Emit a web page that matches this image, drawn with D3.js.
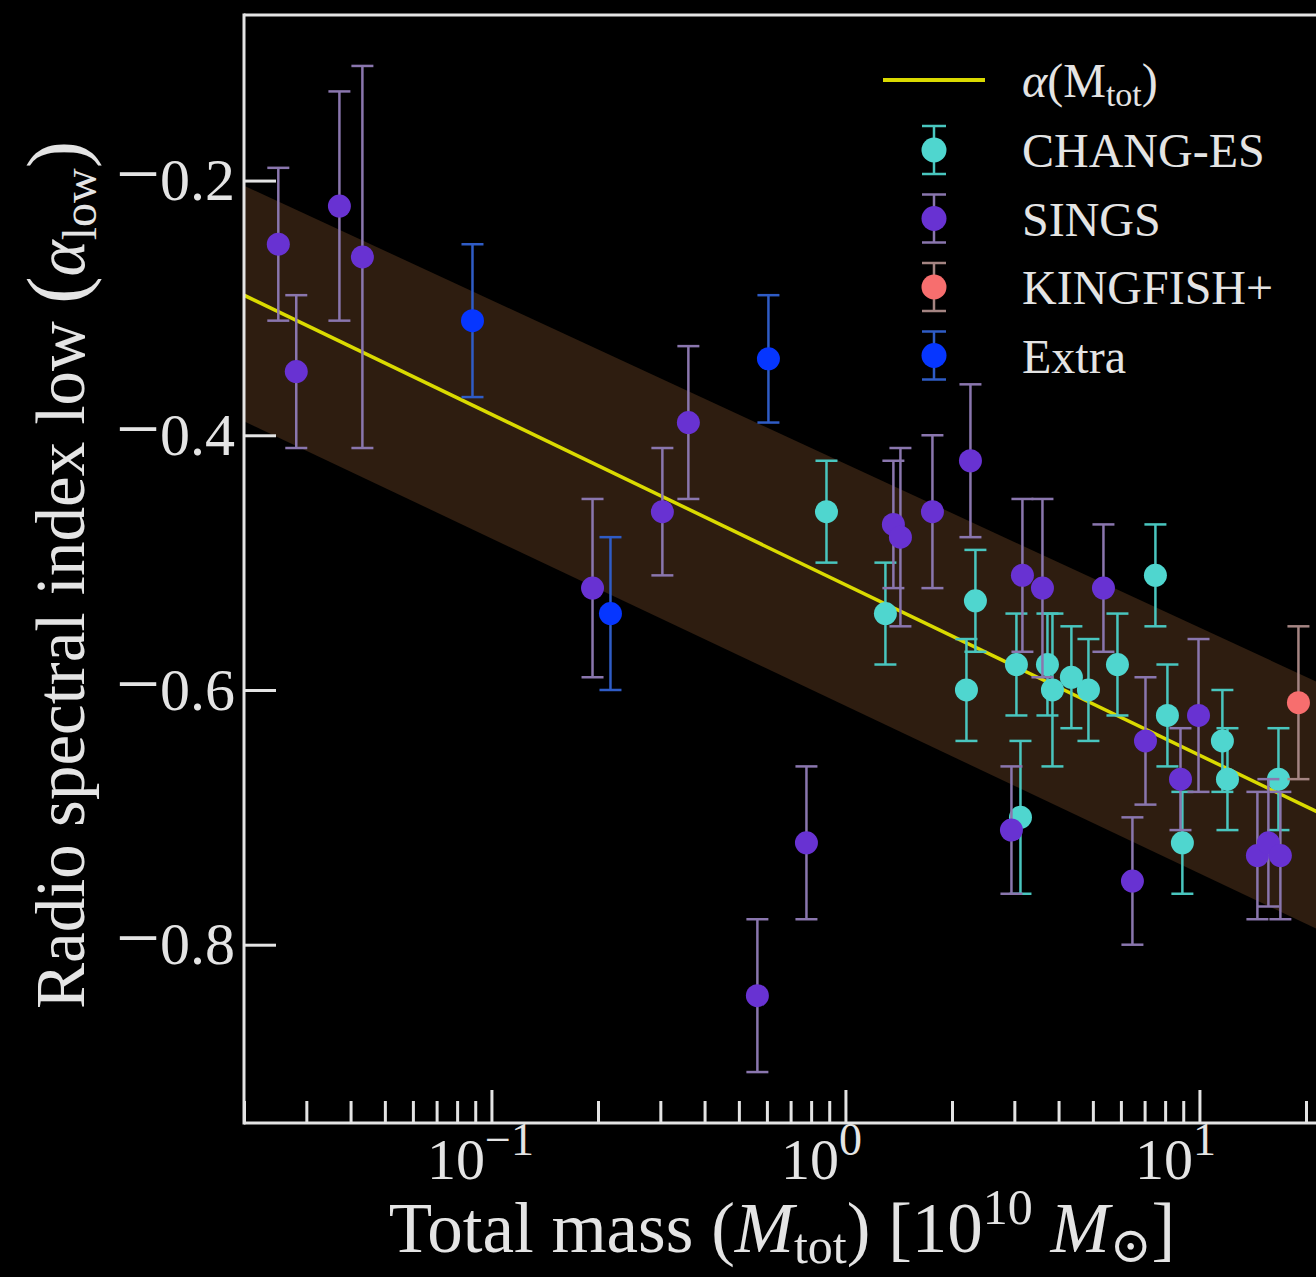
<!DOCTYPE html>
<html lang="en">
<head>
<meta charset="UTF-8">
<title>Radio spectral index vs total mass</title>
<script src="https://d3js.org/d3.v7.min.js"></script>
<style>
    body { margin: 0; background: #000; }
    svg { display: block; background: #000; }
    text { font-family: "Liberation Serif", "DejaVu Serif", serif; fill: #e4e4e4; }
    .frame { stroke: #e4e4e4; stroke-width: 3; }
    .tick line { stroke: #e4e4e4; stroke-width: 3; }
</style>
</head>
<body>
<svg width="1316" height="1277"></svg>
<script>
    // CHANG-ES
    const changesMass  = [0.884, 1.297, 2.197, 2.329, 3.041, 3.122, 3.721, 3.844, 4.348, 4.858, 5.867, 7.51, 8.12, 8.95, 11.61, 12.0, 16.72];
    const changesAlpha = [-0.46, -0.54, -0.60, -0.53, -0.58, -0.70, -0.58, -0.60, -0.59, -0.60, -0.58, -0.51, -0.62, -0.72, -0.64, -0.67, -0.67];
    const changesErr   = [0.04, 0.04, 0.04, 0.04, 0.04, 0.06, 0.04, 0.06, 0.04, 0.04, 0.04, 0.04, 0.04, 0.04, 0.04, 0.04, 0.04];

    // SINGS
    const singsMass  = [0.025, 0.0281, 0.0372, 0.0432, 0.193, 0.304, 0.360, 0.564, 0.776, 1.366, 1.430, 1.761, 2.255, 2.944, 3.162, 3.602, 5.356, 6.467, 7.04, 8.84, 9.94, 14.58, 15.66, 16.93];
    const singsAlpha = [-0.25, -0.35, -0.22, -0.26, -0.52, -0.46, -0.39, -0.84, -0.72, -0.47, -0.48, -0.46, -0.42, -0.71, -0.51, -0.52, -0.52, -0.75, -0.64, -0.67, -0.62, -0.73, -0.72, -0.73];
    const singsErr   = [0.06, 0.06, 0.09, 0.15, 0.07, 0.05, 0.06, 0.06, 0.06, 0.05, 0.07, 0.06, 0.06, 0.05, 0.06, 0.07, 0.05, 0.05, 0.05, 0.04, 0.06, 0.05, 0.05, 0.05];

    // KINGFISH+
    const kingfishMass  = [19.04];
    const kingfishAlpha = [-0.61];
    const kingfishErr   = [0.06];

    // Extra
    const extraMass  = [0.0884, 0.2169, 0.606];
    const extraAlpha = [-0.31, -0.54, -0.34];
    const extraErr   = [0.06, 0.06, 0.05];

    // fit alpha(M_tot) and its band, read at the left edge and at the right edge of the picture
    const fitMass   = [0.02, 22];
    const fitAlpha  = [-0.29, -0.697];
    const bandUpper = [-0.204, -0.595];
    const bandLower = [-0.389, -0.789];

    const yTicks = [-0.2, -0.4, -0.6, -0.8];
    const xTicks = [0.1, 1, 10];
    const xTickExp = ["\u22121", "0", "1"];

    const series = [
        { name: "CHANG-ES",  mass: changesMass,  alpha: changesAlpha,  err: changesErr,  fill: "#4fd6cf", bar: "#49c6bf" },
        { name: "SINGS",     mass: singsMass,    alpha: singsAlpha,    err: singsErr,    fill: "#6832d2", bar: "#8a76ae" },
        { name: "KINGFISH+", mass: kingfishMass, alpha: kingfishAlpha, err: kingfishErr, fill: "#f76e6e", bar: "#a48482" },
        { name: "Extra",     mass: extraMass,    alpha: extraAlpha,    err: extraErr,    fill: "#0636ff", bar: "#2f5cc6" }
    ];

    const svg = d3.select("svg");
    const plotLeft = 244, plotTop = 15, plotBottom = 1123, perDecade = 354;

    const x = d3.scaleLog().domain([0.02, 60]).range([plotLeft, plotLeft + perDecade * Math.log10(60 / 0.02)]);
    const y = d3.scaleLinear().domain([-0.94, -0.07]).range([plotBottom, plotTop]);

    svg.append("clipPath").attr("id", "plot")
        .append("rect").attr("x", plotLeft).attr("y", plotTop).attr("width", 2000).attr("height", plotBottom - plotTop);

    const plot = svg.append("g").attr("clip-path", "url(#plot)");

    // band
    const bandData = fitMass.map((m, i) => ({ m: m, lo: bandLower[i], hi: bandUpper[i] }));
    plot.append("path")
        .datum(bandData)
        .attr("fill", "#2e1d10")
        .attr("d", d3.area().x(d => x(d.m)).y0(d => y(d.lo)).y1(d => y(d.hi)));

    // fit line
    plot.append("path")
        .datum(fitMass.map((m, i) => ({ m: m, a: fitAlpha[i] })))
        .attr("fill", "none")
        .attr("stroke", "#dada00")
        .attr("stroke-width", 3.5)
        .attr("d", d3.line().x(d => x(d.m)).y(d => y(d.a)));

    // error bars + markers
    const cap = 11;
    series.forEach(s => {
        const pts = s.mass.map((m, i) => ({ m: m, a: s.alpha[i], e: s.err[i] }));
        const g = plot.append("g");
        const eb = g.selectAll("g").data(pts).enter().append("g")
            .attr("stroke", s.bar).attr("stroke-width", 2.5);
        eb.append("line")
            .attr("x1", d => x(d.m)).attr("x2", d => x(d.m))
            .attr("y1", d => y(d.a - d.e)).attr("y2", d => y(d.a + d.e));
        eb.append("line")
            .attr("x1", d => x(d.m) - cap).attr("x2", d => x(d.m) + cap)
            .attr("y1", d => y(d.a - d.e)).attr("y2", d => y(d.a - d.e));
        eb.append("line")
            .attr("x1", d => x(d.m) - cap).attr("x2", d => x(d.m) + cap)
            .attr("y1", d => y(d.a + d.e)).attr("y2", d => y(d.a + d.e));
        g.selectAll("circle").data(pts).enter().append("circle")
            .attr("cx", d => x(d.m)).attr("cy", d => y(d.a))
            .attr("r", 11.5).attr("fill", s.fill);
    });

    // axes (ticks point inward)
    const minor = x.ticks().filter(t => !xTicks.includes(t));
    svg.append("g").attr("transform", `translate(0,${plotBottom})`)
        .call(d3.axisBottom(x).tickValues(minor).tickSize(-22).tickFormat(""))
        .call(g => g.select(".domain").remove());
    const xMaj = svg.append("g").attr("transform", `translate(0,${plotBottom})`)
        .call(d3.axisBottom(x).tickValues(xTicks).tickSize(-33).tickFormat(""))
        .call(g => g.select(".domain").remove());
    xMaj.selectAll(".tick").each(function(d, i) {
        const t = d3.select(this);
        t.append("text").attr("x", -7).attr("y", 56).attr("text-anchor", "end")
            .style("font-size", "58px").text("10");
        t.append("text").attr("x", -7).attr("y", 32).attr("text-anchor", "start")
            .style("font-size", "46px").text(xTickExp[i]);
    });

    svg.append("g").attr("transform", `translate(${plotLeft},0)`)
        .call(d3.axisLeft(y).tickValues(yTicks).tickSize(-32).tickPadding(9).tickFormat(""))
        .call(g => g.select(".domain").remove())
        .call(g => g.selectAll(".tick text").each(function(d) {
            const t = d3.select(this).style("font-size", "60px").attr("fill", "#e4e4e4");
            t.append("tspan").style("font-size", "78px").text("\u2212");
            t.append("tspan").text(d3.format(".1f")(Math.abs(d)));
        }));

    // frame
    svg.append("line").attr("class", "frame").attr("x1", plotLeft).attr("x2", 1316).attr("y1", plotBottom).attr("y2", plotBottom);
    svg.append("line").attr("class", "frame").attr("x1", plotLeft).attr("x2", 1316).attr("y1", plotTop).attr("y2", plotTop);
    svg.append("line").attr("class", "frame").attr("x1", plotLeft).attr("x2", plotLeft).attr("y1", plotTop - 1.5).attr("y2", plotBottom + 1.5);

    function parts(sel, list) {
        list.forEach(p => {
            const ts = sel.append("tspan").text(p.t);
            if (p.size) ts.style("font-size", p.size);
            if (p.dy) ts.attr("dy", p.dy);
            if (p.it) ts.style("font-style", "italic");
        });
    }

    // axis labels
    const xl = svg.append("text").attr("x", 782).attr("y", 1252).attr("text-anchor", "middle").style("font-size", "71px");
    parts(xl, [
        { t: "Total mass (" },
        { t: "M", it: true },
        { t: "tot", size: "50px", dy: 11 },
        { t: ") [10", dy: -11 },
        { t: "10", size: "50px", dy: -28 },
        { t: " " , dy: 28 },
        { t: "M", it: true },
        { t: "\u2299", size: "50px", dy: 10 },
        { t: "]", dy: -10 }
    ]);

    const yl = svg.append("text").attr("transform", "translate(84,575) rotate(-90)")
        .attr("text-anchor", "middle").style("font-size", "69px");
    parts(yl, [
        { t: "Radio spectral index low " },
        { t: "(", size: "82px" },
        { t: "\u03b1", it: true },
        { t: "low", size: "48px", dy: 12 },
        { t: ")", size: "82px", dy: -12 }
    ]);

    // legend
    const leg = svg.append("g");
    leg.append("line").attr("x1", 883).attr("x2", 985).attr("y1", 80).attr("y2", 80)
        .attr("stroke", "#dada00").attr("stroke-width", 4);
    const lt = leg.append("text").attr("x", 1022).attr("y", 97).style("font-size", "48px");
    parts(lt, [
        { t: "\u03b1", it: true },
        { t: "(M" },
        { t: "tot", size: "34px", dy: 9 },
        { t: ")", dy: -9 }
    ]);
    series.forEach((s, i) => {
        const cy = 150 + i * 68.5;
        const g = leg.append("g").attr("stroke", s.bar).attr("stroke-width", 2.5);
        g.append("line").attr("x1", 934).attr("x2", 934).attr("y1", cy - 24).attr("y2", cy + 24);
        g.append("line").attr("x1", 922).attr("x2", 946).attr("y1", cy - 24).attr("y2", cy - 24);
        g.append("line").attr("x1", 922).attr("x2", 946).attr("y1", cy + 24).attr("y2", cy + 24);
        leg.append("circle").attr("cx", 934).attr("cy", cy).attr("r", 12.5).attr("fill", s.fill);
        leg.append("text").attr("x", 1022).attr("y", cy + 17).style("font-size", "48px").text(s.name);
    });
</script>
</body>
</html>
